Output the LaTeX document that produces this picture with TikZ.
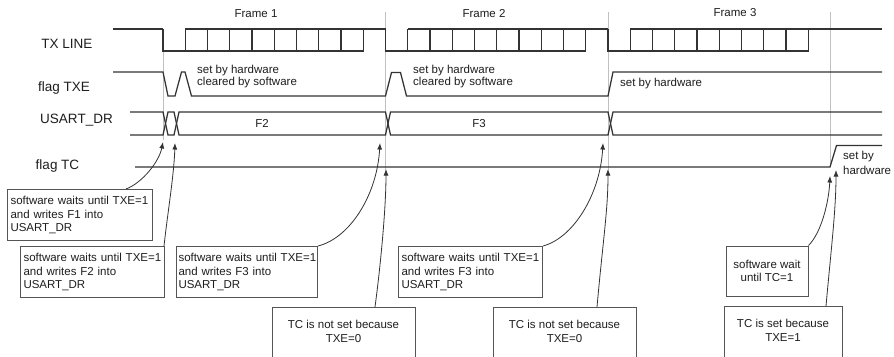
\documentclass[tikz,border=0pt]{standalone}
\usepackage{fontspec}
\setmainfont{Liberation Sans}
\usetikzlibrary{arrows.meta}
\definecolor{sigc}{HTML}{333333}
\definecolor{boxc}{HTML}{555555}
\definecolor{txtc}{HTML}{1E1E1E}
\definecolor{guide}{HTML}{C0C0C0}
\begin{document}
\begin{tikzpicture}[x=1pt,y=-1pt,
  sig/.style={draw=sigc,line width=1.25pt},
  guideline/.style={draw=guide,line width=0.8pt},
  siglabel/.style={text=txtc,font=\fontsize{13.5}{15}\selectfont,inner sep=0pt},
  small/.style={text=txtc,font=\fontsize{11.5}{12.8}\selectfont,inner sep=0pt},
  leftbox/.style={draw=boxc,line width=1pt,text=txtc,font=\fontsize{11.5}{13.5}\selectfont,
    inner xsep=3pt,inner ysep=0pt,align=left,anchor=north west,minimum height=51pt},
  cbox/.style={draw=boxc,line width=1pt,text=txtc,font=\fontsize{11.5}{13.2}\selectfont,
    inner xsep=0pt,inner ysep=0pt,align=center},
  openbox/.style={draw=boxc,line width=1pt,text=txtc,font=\fontsize{11.5}{13.2}\selectfont,
    inner xsep=0pt,inner ysep=13pt,align=center,anchor=north,text depth=40pt},
  arr/.style={draw=sigc,line width=0.8pt,-{Latex[length=6.5pt,width=5pt]}}
]
\useasboundingbox (0,0) rectangle (894,356);
\clip (0,0) rectangle (894,356);
\fill[white] (0,0) rectangle (894,356);

% guide lines
\draw[guideline] (163,29) -- (163,140);
\draw[guideline] (385.5,12) -- (385.5,170);
\draw[guideline] (608,12) -- (608,170);
\draw[guideline] (830.5,12) -- (830.5,167);

% signal labels
\node[siglabel] (lTX) at (67,44) {TX LINE};
\node[siglabel] (lTXE) at (64,88) {flag TXE};
\node[siglabel] (lDR) at (76.5,120) {USART\_DR};
\node[siglabel] (lTC) at (57.5,166) {flag TC};

% frame labels
\node[small] (fr1) at (256,14) {Frame 1};
\node[small] (fr2) at (484,14) {Frame 2};
\node[small] (fr3) at (735,13) {Frame 3};

% TX LINE
\draw[sig] (113,29) -- (163,29);
\draw[sig] (185.25,29) -- (385.5,29);
\draw[sig] (407.75,29) -- (608,29);
\draw[sig] (630.25,29) -- (882,29);
\foreach \s in {163,385.5,608} {
  \draw[sig] (\s,29) -- (\s,51) -- ({\s+9*22.25},51) -- ({\s+9*22.25},29);
  \foreach \k in {1,...,8} \draw[sig] ({\s+\k*22.25},29) -- ({\s+\k*22.25},51);
}

% flag TXE
\draw[sig] (113,72) -- (163,72) -- (168,96) -- (175,96) -- (181.5,72) -- (185,72)
  -- (191.5,96) -- (385.5,96) -- (391.5,72.5) -- (400.5,72.5) -- (406.5,96)
  -- (608,96) -- (613,72) -- (882,72);
\node[small,align=left,anchor=west] (txe1) at (197,76.5) {set by hardware\\cleared by software};
\node[small,align=left,anchor=west] (txe2) at (413,76.5) {set by hardware\\cleared by software};
\node[small,anchor=west] (txe3) at (620,84) {set by hardware};

% USART_DR
\draw[sig] (130,112) -- (163,112) -- (168,135) -- (174,135) -- (179,112) -- (385.5,112)
  -- (390.5,135) -- (608,135) -- (613,112) -- (882,112);
\draw[sig] (130,135) -- (163,135) -- (168,112) -- (174,112) -- (179,135) -- (385.5,135)
  -- (390.5,112) -- (608,112) -- (613,135) -- (882,135);
\node[small] (f2) at (262,123.5) {F2};
\node[small] (f3) at (479,123.5) {F3};

% flag TC
\draw[sig] (135,167) -- (830,167) -- (836.5,145.5) -- (882,145.5);
\node[small,align=left,anchor=west,font=\fontsize{11.5}{14.5}\selectfont] (tch) at (843,163) {set by\\hardware};

% boxes
\node[leftbox,text width=139pt] (b1) at (7,189) {\mbox{software waits until TXE=1}\\and writes F1 into\\USART\_DR};
\node[leftbox,text width=138pt] (b2) at (20,246) {\mbox{software waits until TXE=1}\\and writes F2 into\\USART\_DR};
\node[leftbox,text width=137pt,inner xsep=2pt] (b3) at (176,246) {\mbox{software waits until TXE=1}\\and writes F3 into\\USART\_DR};
\node[leftbox,text width=138pt] (b4) at (398,246) {\mbox{software waits until TXE=1}\\and writes F3 into\\USART\_DR};
\node[cbox,minimum width=82pt,minimum height=50pt] (sw) at (767,271) {software wait\\until TC=1};
\node[openbox,minimum width=143pt] (tc1) at (343.5,307) {TC is not set because\\TXE=0};
\node[openbox,minimum width=143pt] (tc2) at (564.5,307) {TC is not set because\\TXE=0};
\node[openbox,minimum width=118pt] (tc3) at (783,306) {TC is set because\\TXE=1};

% arrow targets
\coordinate (t1) at (163,142);
\coordinate (t2) at (175,143);
\coordinate (t3) at (380,143);
\coordinate (t4) at (386,169);
\coordinate (t5) at (603,143);
\coordinate (t6) at (608,169);
\coordinate (t7) at (830,176);
\coordinate (t8) at (836,170);

% arrows
\draw[arr] ([xshift=-27pt]b1.north east) .. controls (142,183) and (159,162) .. (t1);
\draw[arr] ([xshift=-1pt]b2.north east) .. controls (168,210) and (174,175) .. (t2);
\draw[arr] (b3.north east) .. controls (350,238) and (377,195) .. (t3);
\draw[arr] ([xshift=31.5pt]tc1.north) .. controls (380,270) and (386,210) .. (t4);
\draw[arr] (b4.north east) .. controls (573,238) and (600,195) .. (t5);
\draw[arr] ([xshift=32.5pt]tc2.north) .. controls (603,240) and (608,210) .. (t6);
\draw[arr] (sw.north east) .. controls (822,232) and (829,200) .. (t7);
\draw[arr] ([xshift=43pt]tc3.north) .. controls (831,250) and (836,210) .. (t8);
\end{tikzpicture}
\end{document}
